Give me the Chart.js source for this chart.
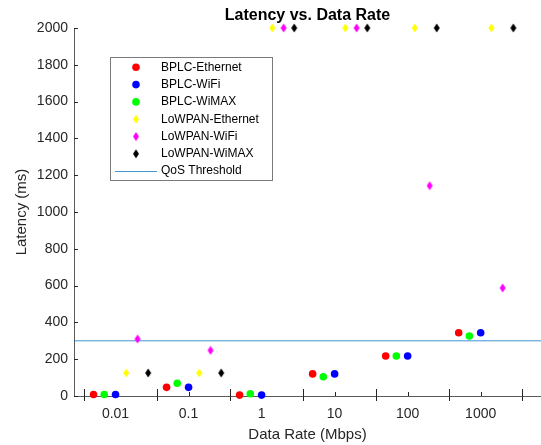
<!DOCTYPE html>
<html>
<head>
<meta charset="utf-8">
<script src="https://cdn.jsdelivr.net/npm/chart.js@4.4.1/dist/chart.umd.min.js"></script>
<style>
  html, body { margin: 0; padding: 0; background: #fff; }
  #wrap { width: 541px; height: 445px; }
</style>
</head>
<body>
<div id="wrap"><canvas id="myChart" width="541" height="445"></canvas></div>
<script>
// Data rate (Mbps) and latency (ms) per link
var bplcEthRate = [0.005, 0.05, 0.5, 5, 50, 500];
var bplcEthLatency = [8, 47, 5, 120, 217, 344];
var bplcWifiRate = [0.01, 0.1, 1, 10, 100, 1000];
var bplcWifiLatency = [8, 47, 5, 120, 217, 344];
var bplcWimaxRate = [0.007, 0.07, 0.7, 7, 70, 700];
var bplcWimaxLatency = [8, 69, 12, 105, 217, 326];
var lowpanEthRate = [0.014, 0.14, 1.4, 14, 125, 1400];
var lowpanEthLatency = [125, 125, 2000, 2000, 2000, 2000];
var lowpanWifiRate = [0.02, 0.2, 2, 20, 200, 2000];
var lowpanWifiLatency = [310, 248, 2000, 2000, 1143, 587];
var lowpanWimaxRate = [0.028, 0.28, 2.8, 28, 250, 2800];
var lowpanWimaxLatency = [125, 125, 2000, 2000, 2000, 2000];

var qosThreshold = 300;

// Axis ticks
var xTickLabels = [0.01, 0.1, 1, 10, 100, 1000];
var xMajorTicks = [0.0037, 0.037, 0.37, 3.7, 37, 370, 3700];
var yTicks = [0, 200, 400, 600, 800, 1000, 1200, 1400, 1600, 1800, 2000];
var xMin = 0.0027, xMax = 6700;

var fontFamily = "'Liberation Sans', Arial, Helvetica, sans-serif";
var textColor = '#262626';

function toPoints(xs, ys) {
    return xs.map(function(x, i) { return { x: x, y: ys[i] }; });
}

// MATLAB style 'd' marker: a narrow filled diamond
function makeDiamond(color) {
    var c = document.createElement('canvas');
    c.width = 8;
    c.height = 10;
    var g = c.getContext('2d');
    g.fillStyle = color;
    g.beginPath();
    g.moveTo(4, 0.5);
    g.lineTo(7, 5);
    g.lineTo(4, 9.5);
    g.lineTo(1, 5);
    g.closePath();
    g.fill();
    return c;
}

function circleSet(label, color, xs, ys) {
    return {
        label: label,
        data: toPoints(xs, ys),
        backgroundColor: color,
        borderWidth: 0,
        pointRadius: 3.8,
        pointStyle: 'circle',
        clip: false
    };
}

function diamondSet(label, color, xs, ys) {
    return {
        label: label,
        data: toPoints(xs, ys),
        backgroundColor: color,
        borderWidth: 0,
        pointStyle: makeDiamond(color),
        clip: false
    };
}

var datasets = [
    circleSet('BPLC-Ethernet', '#ff0000', bplcEthRate, bplcEthLatency),
    circleSet('BPLC-WiFi', '#0000ff', bplcWifiRate, bplcWifiLatency),
    circleSet('BPLC-WiMAX', '#00ff00', bplcWimaxRate, bplcWimaxLatency),
    diamondSet('LoWPAN-Ethernet', '#ffff00', lowpanEthRate, lowpanEthLatency),
    diamondSet('LoWPAN-WiFi', '#ff00ff', lowpanWifiRate, lowpanWifiLatency),
    diamondSet('LoWPAN-WiMAX', '#000000', lowpanWimaxRate, lowpanWimaxLatency),
    {
        type: 'line',
        label: 'QoS Threshold',
        data: [{ x: xMin, y: qosThreshold }, { x: xMax, y: qosThreshold }],
        borderColor: 'rgba(0, 114, 189, 0.75)',
        borderWidth: 1,
        pointRadius: 0,
        fill: false
    }
];

// Tick marks like the original: long ones off the decades, short ones on them
var axisTicks = {
    id: 'axisTicks',
    beforeDatasetsDraw: function(chart) {
        var ctx = chart.ctx, area = chart.chartArea;
        var xs = chart.scales.x, ys = chart.scales.y;
        ctx.save();
        ctx.strokeStyle = textColor;
        ctx.lineWidth = 1;
        ctx.beginPath();
        xMajorTicks.forEach(function(v) {
            var px = Math.round(xs.getPixelForValue(v)) + 0.5;
            ctx.moveTo(px, area.bottom - 7);
            ctx.lineTo(px, area.bottom + 5);
        });
        xTickLabels.forEach(function(v) {
            var px = Math.round(xs.getPixelForValue(v)) + 0.5;
            ctx.moveTo(px, area.bottom - 4);
            ctx.lineTo(px, area.bottom);
        });
        yTicks.forEach(function(v) {
            var py = Math.round(ys.getPixelForValue(v)) + 0.5;
            ctx.moveTo(area.left, py);
            ctx.lineTo(area.left + 4, py);
        });
        ctx.stroke();
        ctx.restore();
    }
};

// Boxed legend in the upper left of the plot
var boxLegend = {
    id: 'boxLegend',
    afterDraw: function(chart) {
        var ctx = chart.ctx;
        var left = 110, top = 57, width = 162, height = 123;
        var rowY = 67.3, rowStep = 17.3, markX = 136, textX = 161;
        ctx.save();
        ctx.fillStyle = '#ffffff';
        ctx.fillRect(left, top, width, height);
        ctx.strokeStyle = '#7a7a7a';
        ctx.lineWidth = 1;
        ctx.strokeRect(left + 0.5, top + 0.5, width, height);
        ctx.font = '12px ' + fontFamily;
        ctx.textBaseline = 'middle';
        chart.data.datasets.forEach(function(ds, i) {
            var y = rowY + i * rowStep;
            if (ds.type === 'line') {
                ctx.strokeStyle = ds.borderColor;
                ctx.beginPath();
                ctx.moveTo(115, Math.round(y) + 0.5);
                ctx.lineTo(157, Math.round(y) + 0.5);
                ctx.stroke();
            } else if (ds.pointStyle === 'circle') {
                ctx.fillStyle = ds.backgroundColor;
                ctx.beginPath();
                ctx.arc(markX, y, 3.8, 0, Math.PI * 2);
                ctx.fill();
            } else {
                var img = ds.pointStyle;
                ctx.drawImage(img, markX - img.width / 2, y - img.height / 2);
            }
            ctx.fillStyle = '#000000';
            ctx.fillText(ds.label, textX, y);
        });
        ctx.restore();
    }
};

var ctx = document.getElementById('myChart').getContext('2d');
var myChart = new Chart(ctx, {
    type: 'scatter',
    data: { datasets: datasets },
    options: {
        responsive: false,
        animation: false,
        events: [],
        // the axes run right up to the canvas edge, as in the original crop
        layout: { padding: 0, autoPadding: false },
        plugins: {
            legend: { display: false },
            tooltip: { enabled: false },
            title: {
                display: true,
                fullSize: false,
                text: 'Latency vs. Data Rate',
                color: '#000000',
                font: { family: fontFamily, size: 16, weight: 'bold' },
                padding: { top: 6, bottom: 2.8 }
            }
        },
        scales: {
            x: {
                type: 'logarithmic',
                min: xMin,
                max: xMax,
                bounds: 'data',
                afterBuildTicks: function(scale) {
                    scale.ticks = [xMin].concat(xTickLabels, [xMax]).map(function(v) {
                        return { value: v };
                    });
                },
                afterFit: function(scale) { scale.height = 49; },
                ticks: {
                    autoSkip: false,
                    maxRotation: 0,
                    padding: 0,
                    color: textColor,
                    font: { family: fontFamily, size: 14 },
                    callback: function(value) {
                        return xTickLabels.indexOf(value) >= 0 ? String(value) : '';
                    }
                },
                // hidden grid; tickLength only spaces the labels from the axis
                grid: { display: false, drawTicks: true, tickLength: 10 },
                border: { display: true, color: '#5a5a5a', width: 1 },
                title: {
                    display: true,
                    text: 'Data Rate (Mbps)',
                    color: textColor,
                    font: { family: fontFamily, size: 15 },
                    padding: { top: 0, bottom: 1.5 }
                }
            },
            y: {
                min: 0,
                max: 2000,
                afterBuildTicks: function(scale) {
                    scale.ticks = yTicks.map(function(v) { return { value: v }; });
                },
                afterFit: function(scale) { scale.width = 74; },
                ticks: {
                    padding: 6,
                    color: textColor,
                    font: { family: fontFamily, size: 14 },
                    callback: function(value) { return String(value); }
                },
                grid: { display: false, drawTicks: false },
                border: { display: true, color: '#5a5a5a', width: 1 },
                title: {
                    display: true,
                    text: 'Latency (ms)',
                    color: textColor,
                    font: { family: fontFamily, size: 15 },
                    padding: { top: 13, bottom: 0 }
                }
            }
        }
    },
    plugins: [axisTicks, boxLegend]
});
</script>
</body>
</html>
